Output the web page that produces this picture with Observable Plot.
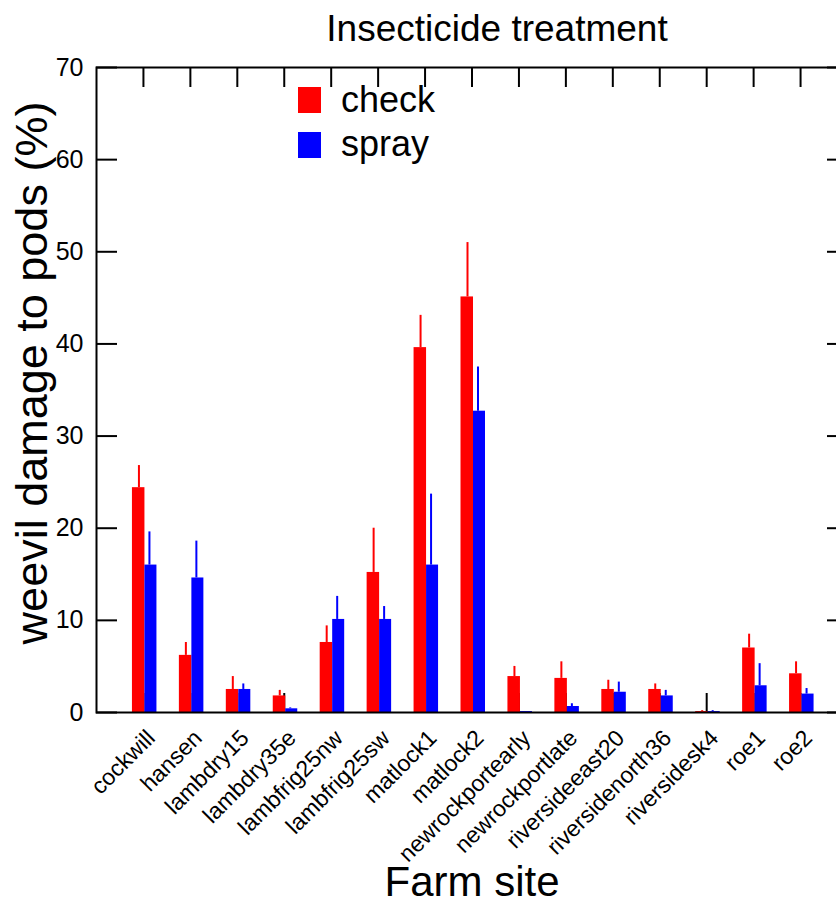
<!DOCTYPE html>
<html><head><meta charset="utf-8">
<script src="https://cdn.jsdelivr.net/npm/d3@7"></script>
<script src="https://cdn.jsdelivr.net/npm/@observablehq/plot@0.6"></script>
<style>
body{margin:0;background:#fff;overflow:hidden;font-family:"Liberation Sans",Arial,sans-serif;color:#000;}
#wrap{position:relative;width:836px;height:907px;overflow:hidden;}
#chart{position:absolute;left:0;top:0;}
#chart svg{max-width:none !important;}
.txt{position:absolute;white-space:nowrap;font-size:36px;line-height:36px;}
#title{top:11px;left:497px;transform:translateX(-50%);font-size:37px;}
.sw{position:absolute;width:23px;height:26px;}
</style></head><body>
<div id="wrap">
  <div id="chart"></div>
  <div id="title" class="txt">Insecticide treatment</div>
  <div class="sw" style="left:298px;top:87px;background:#ff0000"></div>
  <div class="txt" style="left:341px;top:82px">check</div>
  <div class="sw" style="left:298px;top:132px;background:#0000ff"></div>
  <div class="txt" style="left:341px;top:126px">spray</div>
</div>
<script>
const sites = ["cockwill","hansen","lambdry15","lambdry35e","lambfrig25nw","lambfrig25sw","matlock1","matlock2","newrockportearly","newrockportlate","riversideeast20","riversidenorth36","riversidesk4","roe1","roe2"];
const checkMean = [24.4, 6.2, 2.5, 1.8, 7.6, 15.2, 39.6, 45.1, 3.9, 3.7, 2.5, 2.5, 0.1, 7.0, 4.2];
const checkErr  = [2.4, 1.4, 1.4, 0.6, 1.8, 4.8, 3.5, 5.9, 1.1, 1.8, 1.0, 0.6, 0.1, 1.5, 1.3];
const sprayMean = [16.0, 14.6, 2.5, 0.4, 10.1, 10.1, 16.0, 32.7, 0.1, 0.65, 2.2, 1.8, 0.1, 2.9, 2.0];
const sprayErr  = [3.6, 4.0, 0.6, 0.1, 2.5, 1.4, 7.7, 4.8, 0.0, 0.3, 1.1, 0.6, 0.1, 2.4, 0.6];
const yTicks = [0, 10, 20, 30, 40, 50, 60, 70];
const treatments = ["check", "spray"];
const colors = ["#ff0000", "#0000ff"];

const check = sites.map((s, i) => ({site: s, trt: treatments[0], mean: checkMean[i], se: checkErr[i]}));
const spray = sites.map((s, i) => ({site: s, trt: treatments[1], mean: sprayMean[i], se: sprayErr[i]}));

const W = 847, H = 907, mL = 96, mR = 0, mT = 67, mB = 195;
const bw = (W - mL - mR) / 16;      // band width (outer padding half a step)
const redW = 12.5, blueW = 12;
const redInset = (bw - redW) / 2, blueInset = (bw - blueW) / 2;
const font = "'Liberation Sans', Arial, sans-serif";

const chart = Plot.plot({
  width: W, height: H,
  marginLeft: mL, marginRight: mR, marginTop: mT, marginBottom: mB,
  style: {fontFamily: font, background: "#fff", overflow: "visible", maxWidth: "none"},
  x: {type: "band", domain: sites, paddingInner: 0, paddingOuter: 0.5, round: false},
  y: {domain: [0, 70]},
  marks: [
    // inward bottom ticks (drawn behind bars)
    Plot.axisX({anchor: "bottom", tickSize: 19, dy: -19, fill: "none", strokeWidth: 2, label: null, tickFormat: () => ""}),
    Plot.barY(check, {x: "site", y: "mean", fill: colors[0], insetLeft: redInset, insetRight: redInset, dx: -redW / 2 + 1.5}),
    Plot.barY(spray, {x: "site", y: "mean", fill: colors[1], insetLeft: blueInset, insetRight: blueInset, dx: blueW / 2 + 1.5}),
    Plot.ruleX(check, {x: "site", y1: "mean", y2: d => d.mean + d.se, stroke: colors[0], strokeWidth: 2, dx: -4.5}),
    Plot.ruleX(spray, {x: "site", y1: "mean", y2: d => d.mean + d.se, stroke: colors[1], strokeWidth: 2, dx: 6}),
    // inward ticks on top, left, right
    Plot.axisX({anchor: "top", tickSize: 19, dy: 19, fill: "none", strokeWidth: 2, label: null, tickFormat: () => ""}),
    Plot.axisY({anchor: "left", ticks: yTicks, tickSize: 21, dx: 21, fill: "none", strokeWidth: 2, label: null, tickFormat: () => ""}),
    Plot.axisY({anchor: "right", ticks: yTicks, tickSize: 21, dx: -21, fill: "none", strokeWidth: 2, label: null, tickFormat: () => ""}),
    // y tick labels
    Plot.axisY({anchor: "left", ticks: yTicks, tickSize: 0, tickPadding: 13, fontSize: 25, label: null}),
    Plot.frame({stroke: "#000", strokeWidth: 2}),
    // x tick labels
    Plot.text(sites, {x: d => d, text: d => d, frameAnchor: "bottom", rotate: -45, textAnchor: "end", dx: 13, dy: 27, fontSize: 23}),
    // axis titles
    Plot.text(["weevil damage to pods (%)"], {text: d => d, frameAnchor: "left", textAnchor: "middle", rotate: -90, dx: -64, dy: -17, fontSize: 45}),
    Plot.text(["Farm site"], {text: d => d, frameAnchor: "bottom", dy: 183, fontSize: 42})
  ]
});
document.getElementById("chart").appendChild(chart);
</script>
</body></html>
